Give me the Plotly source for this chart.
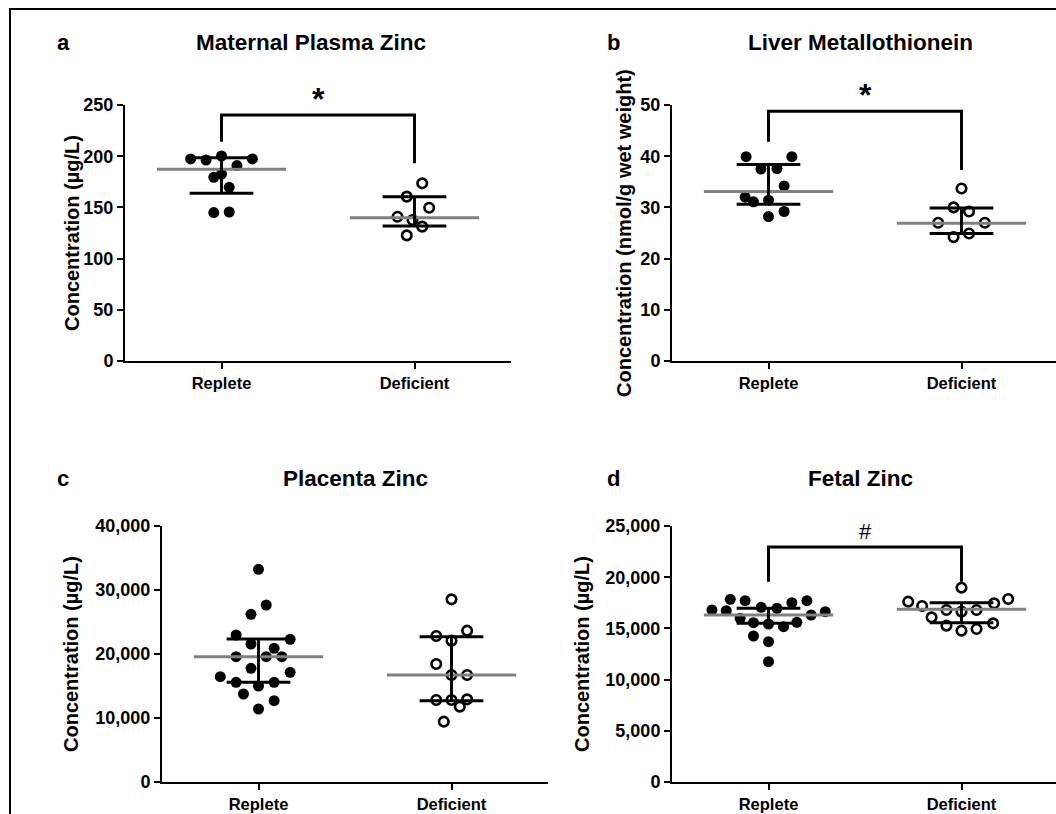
import plotly.graph_objects as go

W, H = 1056, 814

categories = ["Replete", "Deficient"]

# Panel a: Maternal Plasma Zinc (µg/L)
a_rep = [197.3, 196.3, 200.2, 197.3, 190.8, 179.4, 182.6, 169.6, 144.9, 145.5]
a_def = [173.5, 160.5, 149.7, 140.9, 137.7, 131.2, 122.7]
a_center = [187.2, 140.0]
a_upper = [198.5, 160.5]
a_lower = [163.7, 131.8]

# Panel b: Liver Metallothionein (nmol/g wet weight)
b_rep = [39.9, 39.9, 37.5, 37.6, 34.2, 32.0, 31.1, 31.4, 29.2, 28.2]
b_def = [33.7, 30.0, 29.2, 27.0, 27.0, 24.2, 24.9]
b_center = [33.1, 26.9]
b_upper = [38.4, 29.9]
b_lower = [30.6, 24.9]

# Panel c: Placenta Zinc (µg/L)
c_rep = [33229, 27656, 26198, 22969, 22292, 21562, 20885, 19583, 19583, 19583,
         17760, 17135, 16458, 15573, 15573, 15000, 13750, 12708, 11406]
c_def = [28542, 23646, 22813, 22083, 18438, 16719, 16719, 12813, 12813, 12917,
         11771, 9427]
c_center = [19583, 16719]
c_upper = [22344, 22708]
c_lower = [15573, 12708]

# Panel d: Fetal Zinc (µg/L)
d_rep = [16797, 16732, 17839, 17708, 15990, 17057, 16960, 17513, 17708, 16309,
         16634, 15560, 15430, 15169, 15599, 14258, 13704, 11751]
d_def = [18978, 17611, 17871, 17188, 17448, 16797, 16634, 16797, 16081, 15267,
         14779, 14941, 15495]
d_center = [16309, 16862]
d_upper = [16960, 17513]
d_lower = [15495, 15560]

# horizontal scatter offsets (category units) for each point
a_rep_jit = [-0.16, -0.08, 0.0, 0.16, 0.08, -0.04, 0.0, 0.04, -0.04, 0.04]
a_def_jit = [0.04, -0.04, 0.076, -0.088, -0.01, 0.04, -0.04]
b_rep_jit = [-0.116, 0.121, -0.039, 0.044, 0.081, -0.121, -0.078, 0.0, 0.081, 0.0]
b_def_jit = [0.0, -0.041, 0.039, -0.121, 0.121, -0.041, 0.039]
c_rep_jit = [0.0, 0.04, -0.039, -0.116, 0.164, -0.039, 0.081, -0.116, 0.04, 0.121,
             -0.039, 0.164, -0.198, -0.116, 0.081, 0.0, -0.078, 0.081, 0.0]
c_def_jit = [0.0, 0.081, -0.079, 0.0, -0.079, 0.0, 0.081, -0.079, 0.0, 0.081, 0.043, -0.04]
d_rep_jit = [-0.293, -0.219, -0.198, -0.121, -0.147, -0.038, 0.044, 0.121, 0.199, 0.221,
             0.294, -0.078, 0.0, 0.078, 0.147, -0.078, 0.0, 0.0]
d_def_jit = [0.0, -0.276, 0.242, -0.204, 0.169, -0.078, 0.0, 0.078, -0.155, -0.078,
             0.0, 0.078, 0.164]

titles = ["Maternal Plasma Zinc", "Liver Metallothionein", "Placenta Zinc", "Fetal Zinc"]
letters = ["a", "b", "c", "d"]
ytitles = ["Concentration (µg/L)", "Concentration (nmol/g wet weight)",
           "Concentration (µg/L)", "Concentration (µg/L)"]
yranges = [[0, 250], [0, 50], [0, 40000], [0, 25000]]
ydticks = [50, 10, 10000, 5000]
# significance brackets: [left bottom, top, right bottom], marker
brackets = [([214, 240.2, 193], "*"), ([42.8, 48.8, 37.3], "*"), None, ([19560, 22950, 19560], "#")]

FONT = "Liberation Sans, Arial, sans-serif"
GRAY = "#808080"

# pixel geometry of panels (left, right, top, bottom)
panels = [(125, 511, 105, 361), (672, 1056, 105, 361), (162, 548, 526, 782), (672, 1056, 526, 782)]
ytitle_x = [72, 624, 71, 582]
title_cx = [311, 860, 355, 860]

data = [
    (a_rep, a_def, a_center, a_upper, a_lower, a_rep_jit, a_def_jit),
    (b_rep, b_def, b_center, b_upper, b_lower, b_rep_jit, b_def_jit),
    (c_rep, c_def, c_center, c_upper, c_lower, c_rep_jit, c_def_jit),
    (d_rep, d_def, d_center, d_upper, d_lower, d_rep_jit, d_def_jit),
]

fig = go.Figure()
layout = dict(width=W, height=H, margin=dict(l=0, r=0, t=0, b=0, pad=0),
              autosize=False,
              paper_bgcolor="white", plot_bgcolor="white", showlegend=False,
              font=dict(family=FONT, color="black"))
annotations = []
shapes = []

for i, (rep, dfc, cen, up, lo, rj, dj) in enumerate(data):
    n = "" if i == 0 else str(i + 1)
    xa, ya = "x" + n, "y" + n
    L, R, T, B = panels[i]
    pw = R - L
    xmax = -0.5 + (pw / 193.0)
    layout["xaxis" + n] = dict(
        domain=[L / W, R / W], anchor=ya, range=[-0.5, xmax],
        tickvals=[0, 1], ticktext=categories, showline=True, linecolor="black",
        linewidth=2, ticks="outside", ticklen=6, tickwidth=2, tickcolor="black",
        showgrid=False, zeroline=False, fixedrange=True, automargin=False,
        tickfont=dict(family=FONT, size=16.5, weight="bold", color="black"))
    layout["yaxis" + n] = dict(
        domain=[(H - B) / H, (H - T) / H], anchor=xa, range=yranges[i],
        dtick=ydticks[i], tick0=0, tickformat=",", showline=True, linecolor="black",
        linewidth=2, ticks="outside", ticklen=6, tickwidth=2, tickcolor="black",
        showgrid=False, zeroline=False, fixedrange=True, automargin=False,
        tickfont=dict(family=FONT, size=18, weight="bold", color="black"))

    # points
    fig.add_trace(go.Scatter(x=[0 + j for j in rj], y=rep, mode="markers", xaxis=xa, yaxis=ya,
                             marker=dict(symbol="circle", size=11, color="black")))
    fig.add_trace(go.Scatter(x=[1 + j for j in dj], y=dfc, mode="markers", xaxis=xa, yaxis=ya,
                             marker=dict(symbol="circle-open", size=9.5, color="black",
                                         line=dict(width=2.6, color="black"))))
    for k in range(2):
        # gray central line
        fig.add_trace(go.Scatter(x=[k - 0.335, k + 0.335], y=[cen[k], cen[k]], mode="lines",
                                 xaxis=xa, yaxis=ya, line=dict(color=GRAY, width=3)))
        # black whiskers
        fig.add_trace(go.Scatter(
            x=[k - 0.165, k + 0.165, None, k, k, None, k - 0.165, k + 0.165],
            y=[up[k], up[k], None, up[k], lo[k], None, lo[k], lo[k]],
            mode="lines", xaxis=xa, yaxis=ya, line=dict(color="black", width=3)))

    if brackets[i]:
        (lb, top, rb), sym = brackets[i]
        fig.add_trace(go.Scatter(x=[0, 0, 1, 1], y=[lb, top, top, rb], mode="lines",
                                 xaxis=xa, yaxis=ya, line=dict(color="black", width=3)))
        annotations.append(dict(x=0.5, y=top, xref=xa, yref=ya, text=sym, showarrow=False,
                                yanchor="bottom", yshift=-4 if sym == "*" else 1,
                                font=dict(family=FONT, size=32 if sym == "*" else 22,
                                          weight="bold" if sym == "*" else "normal")))

    # panel title
    ty = 43 if i < 2 else 478
    annotations.append(dict(x=title_cx[i] / W, y=(H - ty) / H,
                            xref="paper", yref="paper", text=titles[i], showarrow=False,
                            xanchor="center", yanchor="middle",
                            font=dict(family=FONT, size=22.5, weight="bold")))
    annotations.append(dict(x=(63 if i % 2 == 0 else 613) / W, y=(H - ty) / H,
                            xref="paper", yref="paper", text=letters[i], showarrow=False,
                            xanchor="center", yanchor="middle",
                            font=dict(family=FONT, size=22, weight="bold")))
    annotations.append(dict(x=ytitle_x[i] / W, y=(H - (T + B) / 2) / H,
                            xref="paper", yref="paper", text=ytitles[i], showarrow=False,
                            textangle=-90, xanchor="center", yanchor="middle",
                            font=dict(family=FONT, size=20, weight="bold")))

# outer frame
shapes.append(dict(type="rect", xref="paper", yref="paper", x0=10 / W, x1=1.02,
                   y0=-0.02, y1=(H - 9) / H, line=dict(color="black", width=2)))

layout["annotations"] = annotations
layout["shapes"] = shapes
fig.update_layout(**layout)
fig.write_html("out.html", config={"displayModeBar": False},
               post_script="document.body.style.margin='0';document.body.style.overflow='hidden';")
